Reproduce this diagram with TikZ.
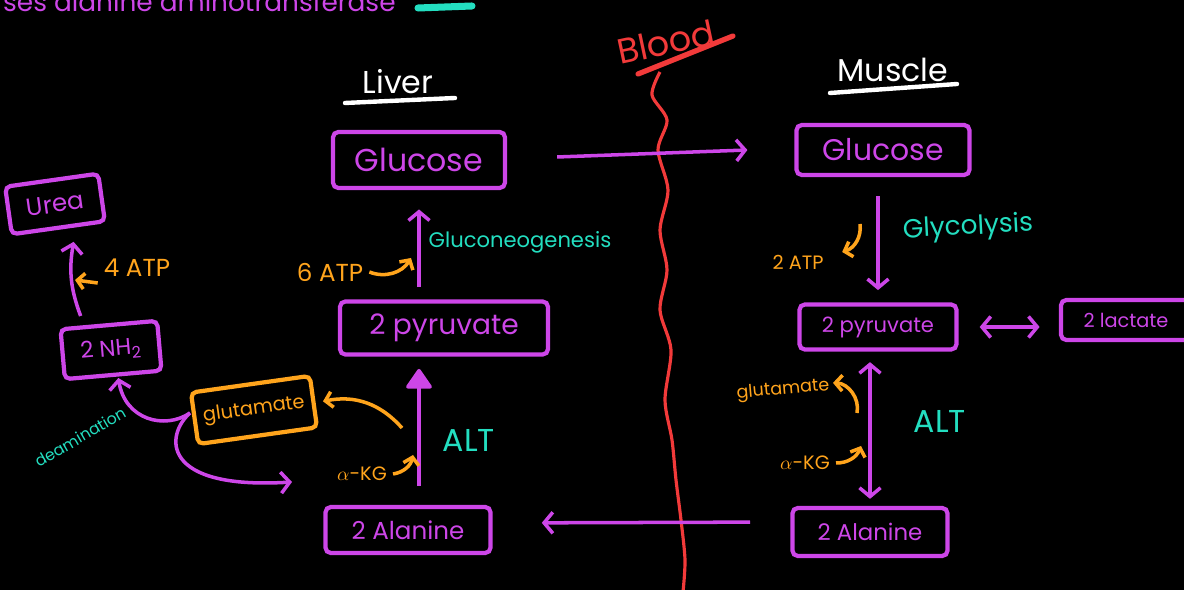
\documentclass[tikz,border=0pt]{standalone}
\usepackage{fontspec}
\setmainfont{Poppins}
\usetikzlibrary{arrows.meta}

\definecolor{purp}{RGB}{205,70,232}
\definecolor{aqua}{RGB}{35,222,192}
\definecolor{amber}{RGB}{255,164,28}
\definecolor{bloodred}{RGB}{242,58,58}

\newcommand{\fs}[1]{\fontsize{#1}{#1}\selectfont}

\tikzset{
  box/.style={draw=purp, text=purp, line width=2.4pt, rounded corners=3pt, inner sep=0pt},
  obox/.style={box, draw=amber, text=amber},
  arr/.style={purp, line width=2pt, -{Straight Barb[length=5pt,width=12pt]}},
  darr/.style={arr, {Straight Barb[length=5pt,width=12pt]}-{Straight Barb[length=5pt,width=12pt]}},
  oarr/.style={amber, line width=2pt, -{Straight Barb[length=4pt,width=9pt]}},
  head/.style={text=white, font=\fs{18}},
  note/.style={text=aqua},
  onote/.style={text=amber},
}

\begin{document}
\begin{tikzpicture}[x=0.02cm, y=-0.02cm]
\fill[black] (0,0) rectangle (1184,590);
\useasboundingbox (0,0) rectangle (1184,590);
\begin{scope}
\clip (0,0) rectangle (1184,590);

% line cut off at the top
\node[text=purp, anchor=base west, font=\fs{15}] (topline) at (-3,12) {ses alanine aminotransferase};
\draw[aqua, line width=4pt, line cap=round] (418,8) -- (472,6);

% blood in the middle
\node[text=bloodred, rotate=12, font=\fs{20}] (blood) at (666,42) {Blood};
\draw[bloodred, line width=3pt, line cap=round] (638,74) -- (733,36);
\draw[bloodred, line width=1.8pt] plot[smooth] coordinates {(660,72) (652,95) (667,120) (658,150) (668,190) (660,230) (667,270) (660,310) (671,350) (665,400) (672,440) (676,480) (681,520) (685,560) (683,592)};

% headings
\node[head] (liver) at (398,82) {Liver};
\draw[white, line width=2.5pt, line cap=round] (345,103) -- (455,98);
\node[head] (muscle) at (893,70) {Muscle};
\draw[white, line width=2.5pt, line cap=round] (830,93) -- (957,84);

% liver side
\node[box, minimum width=3.44cm, minimum height=1.12cm, font=\fs{18}] (lglucose) at (419,160) {Glucose};
\node[box, minimum width=4.16cm, minimum height=1.06cm, font=\fs{16}] (lpyruvate) at (444,328) {2 pyruvate};
\node[box, minimum width=3.3cm, minimum height=0.92cm, font=\fs{14}] (lalanine) at (408,530) {2 Alanine};
\node[obox, minimum width=2.4cm, minimum height=1.04cm, font=\fs{11}, rotate=8] (glut) at (254,410) {glutamate};
\node[box, minimum width=1.94cm, minimum height=1.0cm, font=\fs{13}, rotate=5] (nh) at (111,350) {2 NH\textsubscript{2}};
\node[box, minimum width=1.88cm, minimum height=0.96cm, font=\fs{14}, rotate=8] (urea) at (55,204) {Urea};

% muscle side
\node[box, minimum width=3.46cm, minimum height=1.0cm, font=\fs{17}] (mglucose) at (883,150) {Glucose};
\node[box, minimum width=3.14cm, minimum height=0.9cm, font=\fs{12}] (mpyruvate) at (878,327) {2 pyruvate};
\node[box, minimum width=2.6cm, minimum height=0.8cm, font=\fs{11}] (lactate) at (1126,320) {2 lactate};
\node[box, minimum width=3.1cm, minimum height=0.96cm, font=\fs{13}] (malanine) at (870,532) {2 Alanine};

% labels
\node[note, font=\fs{12}] (gng) at (520,242) {Gluconeogenesis};
\node[note, font=\fs{15}, rotate=3] (gly) at (968,228) {Glycolysis};
\node[note, font=\fs{18}] (lalt) at (469,440) {ALT};
\node[note, font=\fs{18}] (malt) at (940,421) {ALT};
\node[note, font=\fs{9}, rotate=30, inner sep=0pt] (deam) at (80,437) {deamination};
\node[onote, font=\fs{14}] (sixatp) at (330,272) {6 ATP};
\node[onote, font=\fs{14}] (fouratp) at (137,268) {4 ATP};
\node[onote, font=\fs{11}] (twoatp) at (798,262) {2 ATP};
\node[onote, font=\fs{11}] (lakg) at (362,474) {$\alpha$-KG};
\node[onote, font=\fs{11}] (makg) at (805,463) {$\alpha$-KG};
\node[onote, font=\fs{10}, rotate=5] (mglut) at (783,390) {glutamate};

% free ends
\coordinate (split) at (190,413);
\coordinate (amine) at (292,482);
\coordinate (sixin) at (411,258);
\coordinate (ureain) at (75,280);
\coordinate (lakgin) at (413,455);
\coordinate (lglutout) at (402,428);
\coordinate (mglutout) at (857,413);
\coordinate (makgin) at (861,446);
\coordinate (twoatpout) at (860,224);

% purple connectors
\draw[arr] ([xshift=1cm,yshift=0.06cm]lglucose.east) -- ([xshift=-0.94cm]mglucose.west);
\draw[arr, shorten <=7pt, shorten >=11pt] (lpyruvate.north -| lglucose.south) -- (lglucose.south);
\draw[purp, line width=2pt, -{Triangle[length=12pt,width=16pt,round]}, shorten <=11pt, shorten >=7pt] (lalanine.north -| lglucose.south) -- (lpyruvate.south -| lglucose.south);
\draw[arr, shorten <=11pt, shorten >=7pt] (mglucose.south -| mpyruvate.north) -- (mpyruvate.north);
\draw[darr, shorten <=6pt, shorten >=4pt] (mpyruvate.south -| malanine.north) -- (malanine.north);
\draw[arr, shorten <=23pt, shorten >=28pt] ([yshift=0.2cm]malanine.west) -- ([yshift=0.14cm]lalanine.east);
\draw[darr, shorten <=12pt, shorten >=11pt] (mpyruvate.east) -- (lactate.west |- mpyruvate.east);
\draw[arr] ([xshift=-0.56cm,yshift=0.14cm]nh.north) to[bend left=15] ([xshift=0.3cm,yshift=-0.24cm]urea.south);
\draw[arr] (split) .. controls (165,430) and (125,420) .. ([xshift=0.1cm,yshift=-0.02cm]nh.south);
\draw[arr] (split) .. controls (165,435) and (160,490) .. (amine);

% orange connectors
\draw[oarr] (sixatp.east) to[bend right=40] (sixin);
\draw[oarr] ([yshift=-0.3cm]fouratp.west) -- (ureain);
\draw[oarr] (lakg.east) to[bend right=35] (lakgin);
\draw[oarr] (lglutout) to[bend right=30] ([xshift=0.15cm]glut.east);
\draw[oarr] (mglutout) to[bend right=50] ([xshift=-0.05cm,yshift=0.05cm]mglut.east);
\draw[oarr] (makg.east) to[bend right=35] (makgin);
\draw[oarr] (twoatpout) to[bend left=40] ([xshift=0.25cm,yshift=0.2cm]twoatp.east);
\end{scope}
\end{tikzpicture}
\end{document}
